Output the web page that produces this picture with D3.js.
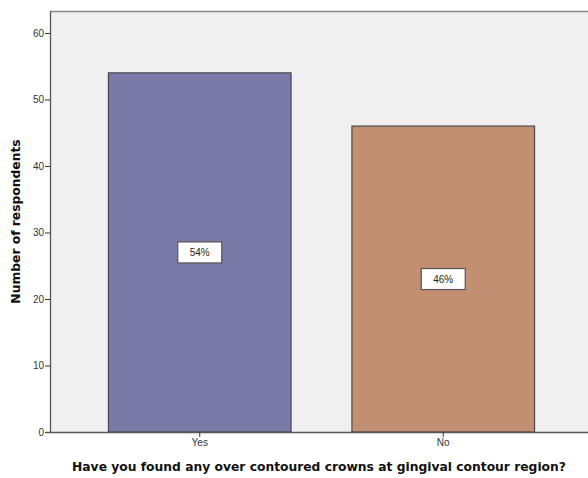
<!DOCTYPE html>
<html>
<head>
<meta charset="utf-8">
<script src="https://cdn.jsdelivr.net/npm/d3@7"></script>
<style>
  html, body { margin: 0; padding: 0; background: #fff; }
  svg { display: block; font-family: "Liberation Sans", Arial, sans-serif; }
</style>
</head>
<body>
<svg id="chart" width="588" height="478"></svg>
<script>
// Survey answers and respondent counts
const categories = ["Yes", "No"];
const counts = [54, 46];
const percentLabels = ["54%", "46%"];
const yTicks = [0, 10, 20, 30, 40, 50, 60];
const barColors = ["#7a7aa8", "#c38f73"];

const svg = d3.select("#chart");
const plot = { left: 50, top: 11, right: 588, bottom: 432 };

const x = d3.scaleBand()
  .domain(categories)
  .range([78, 565])
  .paddingInner(0.25)
  .paddingOuter(0.125);

const y = d3.scaleLinear()
  .domain([0, 63.3])
  .range([plot.bottom, plot.top]);

// plot background
svg.append("rect")
  .attr("x", plot.left).attr("y", plot.top)
  .attr("width", plot.right - plot.left).attr("height", plot.bottom - plot.top)
  .attr("fill", "#f0f0f0");

// top frame line
svg.append("line")
  .attr("x1", plot.left).attr("x2", plot.right)
  .attr("y1", plot.top + 0.5).attr("y2", plot.top + 0.5)
  .attr("stroke", "#8a8a8a").attr("stroke-width", 1.5);

// bars
const data = categories.map((c, i) => ({ cat: c, value: counts[i], label: percentLabels[i], color: barColors[i] }));

svg.append("g").selectAll("rect")
  .data(data).join("rect")
  .attr("x", d => x(d.cat))
  .attr("y", d => y(d.value))
  .attr("width", x.bandwidth())
  .attr("height", d => y(0) - y(d.value))
  .attr("fill", d => d.color)
  .attr("stroke", "#4a4a4a")
  .attr("stroke-width", 1.2);

// value boxes in the middle of each bar
const lab = svg.append("g").selectAll("g")
  .data(data).join("g")
  .attr("transform", d => `translate(${x(d.cat) + x.bandwidth() / 2},${y(d.value / 2)})`);

lab.append("rect")
  .attr("x", -22).attr("y", -10.5)
  .attr("width", 44).attr("height", 21)
  .attr("fill", "#ffffff")
  .attr("stroke", "#555")
  .attr("stroke-width", 1.2);

lab.append("text")
  .attr("text-anchor", "middle")
  .attr("dy", "0.35em")
  .attr("font-size", 10)
  .attr("fill", "#222")
  .text(d => d.label);

// y axis
const yAxis = svg.append("g")
  .attr("transform", `translate(${plot.left},0)`)
  .call(d3.axisLeft(y).tickValues(yTicks).tickSize(5).tickSizeOuter(0));
yAxis.select(".domain").attr("stroke", "#555").attr("stroke-width", 1.3)
  .attr("d", `M0.5,${plot.top}V${plot.bottom}`);
yAxis.selectAll(".tick line").attr("stroke", "#333");
yAxis.selectAll(".tick text").attr("font-size", 10).attr("fill", "#333")
  .attr("font-family", "Liberation Sans, Arial, sans-serif").attr("x", -6);

// x axis
const xAxis = svg.append("g")
  .attr("transform", `translate(0,${plot.bottom})`)
  .call(d3.axisBottom(x).tickSize(5).tickSizeOuter(0));
xAxis.select(".domain").attr("stroke", "#555").attr("stroke-width", 1.3)
  .attr("d", `M${plot.left - 4},0.5H${plot.right}`);
xAxis.selectAll(".tick line").attr("stroke", "#333");
xAxis.selectAll(".tick text").attr("font-size", 10).attr("fill", "#333")
  .attr("font-family", "Liberation Sans, Arial, sans-serif").attr("y", 7);

// axis titles
svg.append("text")
  .attr("x", (plot.left + plot.right) / 2)
  .attr("y", 471)
  .attr("text-anchor", "middle")
  .attr("font-family", "DejaVu Sans, sans-serif")
  .attr("font-size", 12.3)
  .attr("font-weight", "bold")
  .attr("fill", "#111")
  .text("Have you found any over contoured crowns at gingival contour region?");

svg.append("text")
  .attr("transform", `translate(20,${(plot.top + plot.bottom) / 2}) rotate(-90)`)
  .attr("text-anchor", "middle")
  .attr("font-family", "DejaVu Sans, sans-serif")
  .attr("font-size", 12.3)
  .attr("font-weight", "bold")
  .attr("fill", "#111")
  .text("Number of respondents");
</script>
</body>
</html>
